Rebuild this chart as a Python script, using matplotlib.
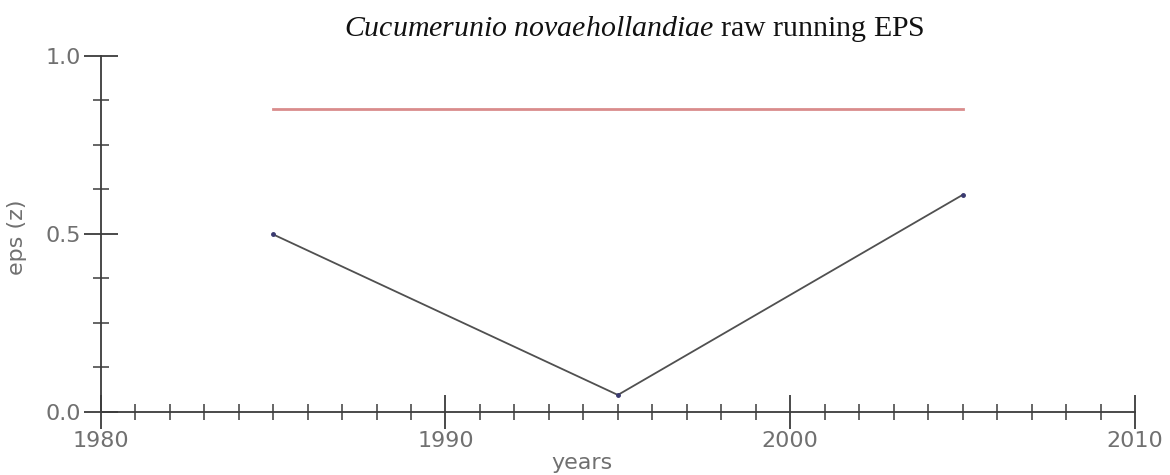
import numpy as np
import matplotlib.pyplot as plt
from matplotlib.ticker import MultipleLocator

# running EPS for the chronology
years = [1985, 1995, 2005]
eps = [0.498, 0.047, 0.609]

# EPS threshold
threshold = 0.85
threshold_span = [1985, 2005]

x_range = (1980, 2010)
y_range = (0.0, 1.0)

axis_col = "#3c3c3c"
label_col = "#707070"

# serif italic for the species name inside the title
plt.rcParams["mathtext.fontset"] = "custom"
plt.rcParams["mathtext.rm"] = "Liberation Serif"
plt.rcParams["mathtext.it"] = "Liberation Serif:italic"

fig = plt.figure(figsize=(11.7, 4.75), dpi=100)
ax = fig.add_axes([0.0861, 0.1333, 0.884, 0.7495])

ax.plot(threshold_span, [threshold, threshold], color="#d98c8c", lw=2.0)
ax.plot(years, eps, color="#505050", lw=1.3, zorder=3)
ax.plot(years, eps, ls="none", marker="o", ms=2.5, color="#3a3a70", zorder=4)

ax.set_xlim(*x_range)
ax.set_ylim(*y_range)

for side in ("top", "right"):
    ax.spines[side].set_visible(False)
for side in ("left", "bottom"):
    ax.spines[side].set_color(axis_col)
    ax.spines[side].set_linewidth(1.3)

ax.xaxis.set_major_locator(MultipleLocator(10))
ax.xaxis.set_minor_locator(MultipleLocator(1))
ax.yaxis.set_major_locator(MultipleLocator(0.5))
ax.yaxis.set_minor_locator(MultipleLocator(0.125))

ax.tick_params(axis="both", which="major", direction="inout", length=24,
               width=1.3, color=axis_col, labelsize=16, labelcolor=label_col)
ax.tick_params(axis="both", which="minor", direction="inout", length=12,
               width=1.1, color=axis_col)
ax.tick_params(axis="x", which="major", pad=2)
ax.tick_params(axis="y", which="major", pad=2)
ax.yaxis.set_major_formatter(plt.FuncFormatter(lambda v, p: f"{v:.1f}"))

ax.set_xlabel("years", fontsize=16, color=label_col, labelpad=0)
ax.set_ylabel("eps (z)", fontsize=16, color=label_col)
ax.xaxis.set_label_coords(0.465, -0.115)
ax.yaxis.set_label_coords(-0.071, 0.49)

fig.text(0.542, 0.94, r"$\it{Cucumerunio\ novaehollandiae}$ raw running EPS",
         ha="center", va="center", fontsize=21.5, family="Liberation Serif",
         color="#111111")

fig.savefig("out.png", dpi=100)
